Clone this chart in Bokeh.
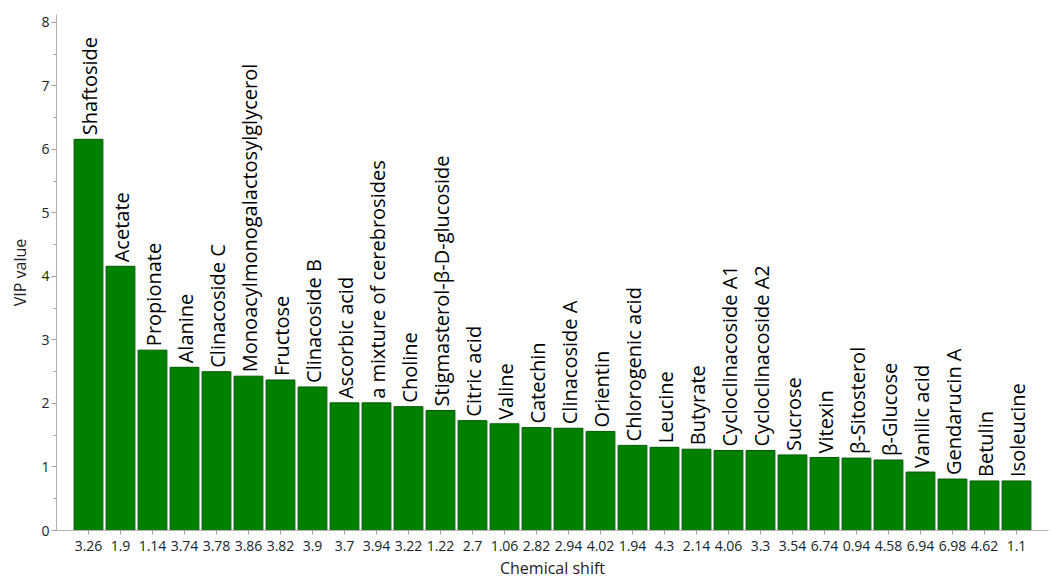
import math
from bokeh.plotting import figure
from bokeh.models import FactorRange, Range1d, ColumnDataSource, SingleIntervalTicker
from bokeh.core.properties import value
from bokeh.embed import file_html
from bokeh.resources import INLINE

shifts = ["3.26", "1.9", "1.14", "3.74", "3.78", "3.86", "3.82", "3.9", "3.7", "3.94",
          "3.22", "1.22", "2.7", "1.06", "2.82", "2.94", "4.02", "1.94", "4.3", "2.14",
          "4.06", "3.3", "3.54", "6.74", "0.94", "4.58", "6.94", "6.98", "4.62", "1.1"]
names = ["Shaftoside", "Acetate", "Propionate", "Alanine", "Clinacoside C",
         "Monoacylmonogalactosylglycerol", "Fructose", "Clinacoside B", "Ascorbic acid",
         "a mixture of cerebrosides", "Choline", "Stigmasterol-\u03b2-D-glucoside", "Citric acid",
         "Valine", "Catechin", "Clinacoside A", "Orientin", "Chlorogenic acid", "Leucine",
         "Butyrate", "Cycloclinacoside A1", "Cycloclinacoside A2", "Sucrose", "Vitexin",
         "\u03b2-Sitosterol", "\u03b2-Glucose", "Vanilic acid", "Gendarucin A", "Betulin", "Isoleucine"]
vip = [6.16, 4.16, 2.84, 2.57, 2.50, 2.43, 2.37, 2.26, 2.01, 2.01,
       1.95, 1.89, 1.73, 1.68, 1.62, 1.61, 1.56, 1.34, 1.31, 1.28,
       1.26, 1.26, 1.19, 1.15, 1.14, 1.11, 0.92, 0.81, 0.78, 0.78]

src = ColumnDataSource(data=dict(x=shifts, top=vip, name=names))

FONT = "Open Sans"

p = figure(x_range=FactorRange(factors=shifts, range_padding=0.5, range_padding_units="absolute"),
           y_range=Range1d(0, 8.125),
           width=1051, height=581,
           min_border_left=56, min_border_right=3, min_border_top=14, min_border_bottom=46,
           output_backend="svg", toolbar_location=None)

p.vbar(x="x", top="top", width=0.9, source=src, fill_color="#008000", line_color="#005a00", line_width=1)

p.text(x="x", y="top", text="name", source=src, angle=math.pi / 2,
       text_align="left", text_baseline="middle", x_offset=1, y_offset=-4,
       text_font=value(FONT), text_font_size="20px", text_color="#000000")

p.xgrid.grid_line_color = None
p.ygrid.grid_line_color = None
p.outline_line_color = None
p.background_fill_color = "white"

p.yaxis.ticker = SingleIntervalTicker(interval=1, num_minor_ticks=2)
p.yaxis.axis_label = "VIP value"
p.xaxis.axis_label = "Chemical shift"

for ax in (p.xaxis, p.yaxis):
    ax.axis_line_color = "#b4b4b4"
    ax.major_tick_line_color = "#a0a0a0"
    ax.minor_tick_line_color = "#a0a0a0"
    ax.major_label_text_font = FONT
    ax.major_label_text_font_size = "14px"
    ax.major_label_text_color = "#222222"
    ax.axis_label_text_font = FONT
    ax.axis_label_text_font_size = "16px"
    ax.axis_label_text_font_style = "normal"
    ax.axis_label_text_color = "#222222"
    ax.major_tick_in = 0
    ax.minor_tick_in = 0

p.yaxis.major_tick_out = 5
p.yaxis.minor_tick_out = 3
p.xaxis.major_tick_out = 4
p.xaxis.major_label_standoff = 6
p.xaxis.axis_label_standoff = 3
p.yaxis.major_label_standoff = 2
p.yaxis.axis_label_standoff = 7

open("out.html", "w").write(file_html(p, INLINE))
